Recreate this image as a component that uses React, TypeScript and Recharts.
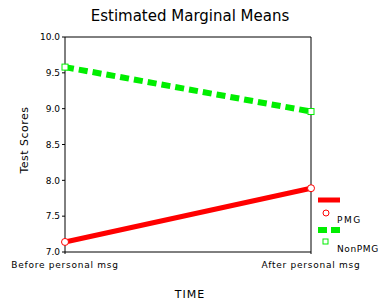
import React from "react";
import { LineChart, Line, XAxis, YAxis, ReferenceLine } from "recharts";

const categories = ["Before personal msg", "After personal msg"];
const pmgValues = [7.14, 7.89];
const nonPmgValues = [9.58, 8.96];
const yTicks = [7.0, 7.5, 8.0, 8.5, 9.0, 9.5, 10.0];

const data = categories.map((c, i) => ({ time: c, pmg: pmgValues[i], nonpmg: nonPmgValues[i] }));

const FONT = "'DejaVu Sans', sans-serif";

const CircleDot = (props: any) => {
  const { cx, cy } = props;
  if (cx == null || cy == null) return null;
  return <circle cx={cx} cy={cy} r={3.5} fill="#fff" stroke="#ff0000" strokeWidth={1} />;
};
const SquareDot = (props: any) => {
  const { cx, cy } = props;
  if (cx == null || cy == null) return null;
  return <rect x={cx - 3} y={cy - 3} width={6} height={6} fill="#fff" stroke="#00ee00" strokeWidth={1} />;
};

export default function App() {
  return (
    <div style={{ position: "absolute", left: 0, top: 0, width: 380, height: 305, background: "#fff", fontFamily: FONT, overflow: "hidden" }}>
      <LineChart width={380} height={305} data={data} margin={{ top: 37, right: 69, left: 25, bottom: 23 }}>
        <XAxis
          dataKey="time"
          tickSize={2}
          stroke="#000"
          tick={{ fill: "#000", fontSize: 9, fontFamily: FONT, letterSpacing: 0.75 } as any}
          tickMargin={8}
          height={30}
          interval={0}
        />
        <YAxis
          type="number"
          domain={[7, 10]}
          ticks={yTicks}
          tickFormatter={(v: number) => v.toFixed(1)}
          tickSize={3}
          stroke="#000"
          tick={{ fill: "#000", fontSize: 9, fontFamily: FONT } as any}
          width={40}
          allowDataOverflow
        />
        <ReferenceLine y={10} stroke="#000" strokeWidth={1} />
        <ReferenceLine x="After personal msg" stroke="#000" strokeWidth={1} />
        <Line
          dataKey="pmg"
          stroke="#ff0000"
          strokeWidth={5}
          dot={<CircleDot />}
          activeDot={false}
          isAnimationActive={false}
        />
        <Line
          dataKey="nonpmg"
          stroke="#00ee00"
          strokeWidth={6}
          strokeDasharray="9 5"
          dot={<SquareDot />}
          activeDot={false}
          isAnimationActive={false}
        />
      </LineChart>
      <div style={{ position: "absolute", left: 0, width: 380, top: 7, textAlign: "center", fontSize: 15, color: "#000" }}>
        Estimated Marginal Means
      </div>
      <div style={{ position: "absolute", left: 0, width: 380, top: 288, textAlign: "center", fontSize: 11, color: "#000", letterSpacing: 1 }}>
        TIME
      </div>
      <div
        style={{
          position: "absolute",
          left: 24,
          top: 140,
          transform: "translate(-50%, -50%) rotate(-90deg)",
          fontSize: 11,
          whiteSpace: "nowrap",
          color: "#000",
          letterSpacing: 0.5,
        }}
      >
        Test Scores
      </div>
      <svg style={{ position: "absolute", left: 312, top: 190 }} width={68} height={70}>
        <line x1={6} y1={10} x2={28} y2={10} stroke="#ff0000" strokeWidth={5} />
        <circle cx={14} cy={23} r={3} fill="#fff" stroke="#ff0000" strokeWidth={1} />
        <text x={25} y={33} fontSize={9} fontFamily={FONT} fill="#000" letterSpacing={1.5}>PMG</text>
        <line x1={6} y1={40} x2={28} y2={40} stroke="#00ee00" strokeWidth={6} strokeDasharray="9 4" />
        <rect x={11} y={49} width={5} height={5} fill="#fff" stroke="#00ee00" strokeWidth={1} />
        <text x={25} y={62} fontSize={9} fontFamily={FONT} fill="#000" letterSpacing={0.6}>NonPMG</text>
      </svg>
    </div>
  );
}
